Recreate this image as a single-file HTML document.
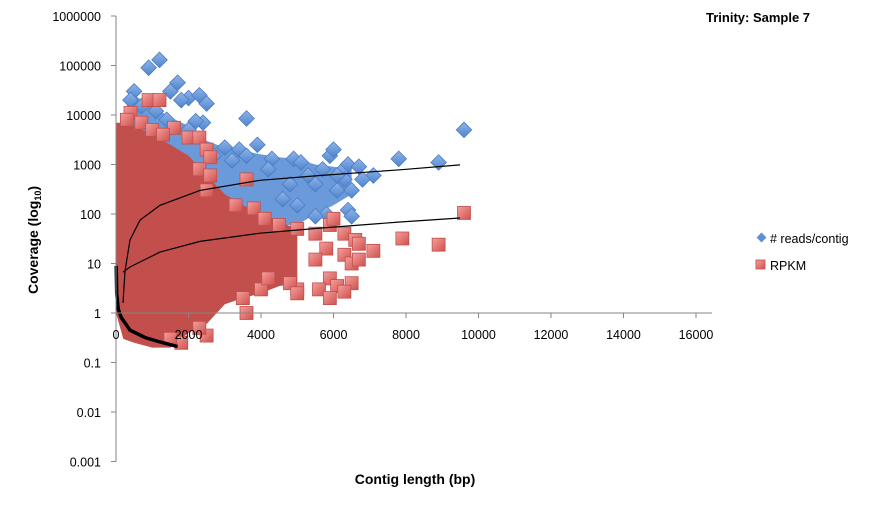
<!DOCTYPE html>
<html><head><meta charset="utf-8"><style>
html,body{margin:0;padding:0;background:#fff;}
svg{display:block;font-family:"Liberation Sans",sans-serif;}
</style></head><body>
<svg id="chart" width="878" height="505" viewBox="0 0 878 505" xmlns="http://www.w3.org/2000/svg">
<defs>
<linearGradient id="rg" x1="0" y1="0" x2="1" y2="1"><stop offset="0" stop-color="#f4a09e"/><stop offset="1" stop-color="#d0504c"/></linearGradient>
<linearGradient id="bg" x1="0" y1="0" x2="1" y2="1"><stop offset="0" stop-color="#8fb4e8"/><stop offset="1" stop-color="#4f84cf"/></linearGradient>
</defs>
<g id="bands"></g>
<g id="blue"></g>
<g id="red"></g>
<g id="lines"></g>
<g id="axes"></g>
<text x="706" y="22" font-size="13" font-weight="bold" fill="#000">Trinity: Sample 7</text>
<text transform="translate(38,240) rotate(-90)" text-anchor="middle" font-size="14" font-weight="bold">Coverage (log<tspan font-size="9" dy="3">10</tspan><tspan dy="-3">)</tspan></text>
<text x="415" y="484" text-anchor="middle" font-size="14" font-weight="bold">Contig length (bp)</text>
<g>
<rect x="758" y="234" width="7" height="7" fill="#5b8fd6" transform="rotate(45 761.5 237.5)"/>
<text x="770" y="243" font-size="12.5">#  reads/contig</text>
<rect x="756" y="260" width="9" height="9" fill="url(#rg)" stroke="#c0504d" stroke-width="0.8"/>
<text x="770" y="270" font-size="12.5">RPKM</text>
</g>
</svg>
<script>
// Axis data
const xTicks=[0,2000,4000,6000,8000,10000,12000,14000,16000];
const yTicks=[0.001,0.01,0.1,1,10,100,1000,10000,100000,1000000];
const yTickLabels=["0.001","0.01","0.1","1","10","100","1000","10000","100000","1000000"];
// Dense band envelopes
const blueBandX=[300,500,1000,1500,2000,2500,3000,3500,4000,4500,5000,5500,6000,6500];
const blueBandHi=[20000,25000,15000,9000,6000,3000,2200,1900,1600,1400,1300,1000,900,800];
const blueBandLo=[5000,3000,1500,700,300,100,90,80,70,60,60,100,150,250];
const redBandX=[0,200,500,1000,1500,2000,2500,3000,3500,4000,4500,5000];
const redBandHi=[7000,7000,6000,4000,2500,1500,600,250,150,100,70,50];
const redBandLo=[1,0.3,0.25,0.2,0.2,0.4,0.6,1.5,2,2.5,3.5,4];
// Outlier points
const blueX=[900,1200,1700,1500,500,400,2000,2300,2500,1800,700,1100,3600,2400,2200,1400,2000,3900,3000,3400,3600,4300,4900,5100,5900,6000,6400,6700,7100,7800,8900,9600,5700,6200,5500,6100,6500,5800,6400,6500,5500,5000,4600,4800,5300,4200,6800,6300,6100,2700,3200];
const blueY=[90000,130000,45000,30000,30000,20000,22000,25000,17000,20000,15000,12000,8500,7000,7500,8000,5000,2500,2200,2000,1500,1300,1300,1100,1500,2000,1000,900,600,1300,1100,5000,800,700,400,300,300,100,120,90,90,150,200,400,600,800,500,500,600,1500,1200];
const redX=[900,1200,400,300,700,1600,1000,1300,2000,2300,2500,2600,2300,2600,2500,3600,3800,3300,4100,4500,5000,5500,5900,6000,6300,6600,6700,7100,7900,8900,9600,6300,6500,6700,5800,5500,5900,6100,6500,6300,5600,5900,5000,4800,3600,2500,2300,1800,1500,4000,3500,5000,4200];
const redY=[20000,20000,11000,8000,7000,5500,5000,4000,3500,3500,2000,1400,800,600,300,500,130,150,80,60,50,40,60,80,40,30,25,18,32,24,105,15,10,12,20,12,5,3.5,4,2.7,3,2,3,4,1,0.35,0.5,0.25,0.3,3,2,2.5,5];
// Trend lines and lower-bound curve
const blueTrendX=[193,248,386,662,1214,2317,3972,5628,7834,9490];
const blueTrendY=[1.6,7,30,75,150,300,480,600,780,980];
const redTrendX=[193,386,662,1214,2317,3972,5628,7834,9490];
const redTrendY=[6.7,8.5,10.7,17,28,41,52,69,83];
const boundX=[5,20,60,150,390,800,1214,1700];
const boundY=[9,2.5,1.2,0.8,0.45,0.32,0.26,0.21];

const X0=116, XS=72.5/2000, Y1=313, DEC=49.5;
const sx=v=>X0+v*XS;
const sy=v=>Y1-Math.log10(v)*DEC;
const NS="http://www.w3.org/2000/svg";
function mk(tag,attrs,parent){const e=document.createElementNS(NS,tag);for(const k in attrs)e.setAttribute(k,attrs[k]);parent.appendChild(e);return e;}

const bands=document.getElementById('bands');
function bandPath(xs,hi,lo){let d='';xs.forEach((x,i)=>{d+=(i?'L':'M')+sx(x).toFixed(1)+','+sy(hi[i]).toFixed(1);});for(let i=xs.length-1;i>=0;i--)d+='L'+sx(xs[i]).toFixed(1)+','+sy(lo[i]).toFixed(1);return d+'Z';}
const bb=mk('path',{d:bandPath(blueBandX,blueBandHi,blueBandLo),fill:'#6a9ad9'},bands);


const rb=mk('path',{d:bandPath(redBandX,redBandHi,redBandLo),fill:'#c24f4b'},bands);



const blue=document.getElementById('blue');
blueX.forEach((x,i)=>{const cx=sx(x),cy=sy(blueY[i]);
const r=mk('rect',{x:cx-5.5,y:cy-5.5,width:11,height:11,fill:'url(#bg)',stroke:'#4a7cc4','stroke-width':0.8,transform:`rotate(45 ${cx} ${cy})`},blue);

});
const red=document.getElementById('red');
redX.forEach((x,i)=>{const cx=sx(x),cy=sy(redY[i]);
const r=mk('rect',{x:cx-6.5,y:cy-6.5,width:13,height:13,fill:'url(#rg)',stroke:'#c0504d','stroke-width':0.8},red);

});

const lines=document.getElementById('lines');
function line(xs,ys){return xs.map((x,i)=>(i?'L':'M')+sx(x).toFixed(1)+','+sy(ys[i]).toFixed(1)).join('');}
const bt=mk('path',{d:line(blueTrendX,blueTrendY),fill:'none',stroke:'#000','stroke-width':1.2},lines);


const rt=mk('path',{d:line(redTrendX,redTrendY),fill:'none',stroke:'#000','stroke-width':1.2},lines);


const bc=mk('path',{d:line(boundX,boundY),fill:'none',stroke:'#000','stroke-width':3.5},lines);



const axes=document.getElementById('axes');
const ya=mk('line',{x1:X0,y1:sy(1000000),x2:X0,y2:sy(0.001),stroke:'#868686','stroke-width':1},axes);


const xa=mk('line',{x1:X0,y1:Y1,x2:712,y2:Y1,stroke:'#868686','stroke-width':1},axes);


yTicks.forEach((v,i)=>{const y=sy(v);
const t=mk('line',{x1:X0-5,y1:y,x2:X0,y2:y,stroke:'#868686'},axes);


const l=mk('text',{x:X0-15,y:y+5,'text-anchor':'end','font-size':12.5,fill:'#000'},axes);
l.textContent=yTickLabels[i];

});
xTicks.forEach(v=>{const x=sx(v);
const t=mk('line',{x1:x,y1:Y1,x2:x,y2:Y1+5,stroke:'#868686'},axes);


const l=mk('text',{x:x,y:Y1+26,'text-anchor':'middle','font-size':12.5,fill:'#000'},axes);
l.textContent=String(v);

});
</script>
</body></html>
